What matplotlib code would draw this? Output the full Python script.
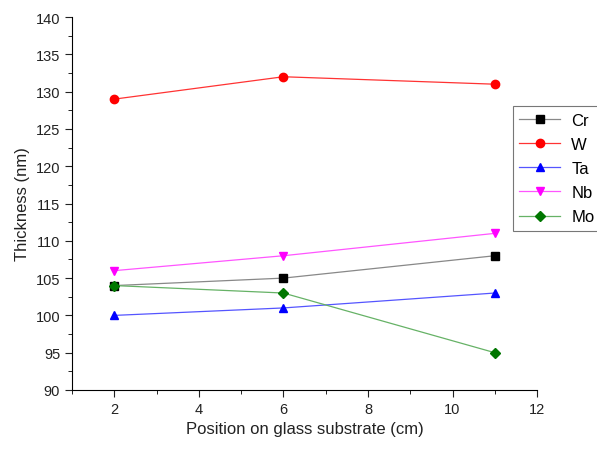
import matplotlib.pyplot as plt
from matplotlib.ticker import MultipleLocator

plt.rcParams['font.family'] = ['Liberation Sans', 'DejaVu Sans']

position = [2, 6, 11]
cr = [104, 105, 108]
w = [129, 132, 131]
ta = [100, 101, 103]
nb = [106, 108, 111]
mo = [104, 103, 95]

series = [
    ("Cr", cr, "#000000", "#888888", "s", 5.5),
    ("W", w, "#ff0000", "#ff3333", "o", 6),
    ("Ta", ta, "#0000ff", "#5555ff", "^", 6),
    ("Nb", nb, "#ff00ff", "#ff55ff", "v", 6),
    ("Mo", mo, "#007700", "#66b266", "D", 5),
]

fig = plt.figure(figsize=(5.97, 4.52), dpi=100)
ax = fig.add_axes([0.1206, 0.135, 0.779, 0.825])

for name, vals, mcol, lcol, mk, ms in series:
    ax.plot(position, vals, color=lcol, lw=0.9, marker=mk, markersize=ms,
            markerfacecolor=mcol, markeredgecolor=mcol, label=name)

ax.set_xlim(1, 12)
ax.set_ylim(90, 140)
ax.xaxis.set_major_locator(MultipleLocator(2))
ax.xaxis.set_minor_locator(MultipleLocator(1))
ax.yaxis.set_major_locator(MultipleLocator(5))
ax.yaxis.set_minor_locator(MultipleLocator(2.5))
ax.spines['top'].set_visible(False)
ax.spines['right'].set_visible(False)
ax.tick_params(which='major', direction='out', length=5, labelsize=10.5, colors='#222222')
ax.tick_params(which='minor', direction='out', length=3)
ax.set_xlabel("Position on glass substrate (cm)", fontsize=12, color='#222222')
ax.set_ylabel("Thickness (nm)", fontsize=12, color='#222222')

# legend sits at the right edge and runs slightly past it
leg = fig.legend(loc='upper left', bbox_to_anchor=(0.859, 0.763), borderaxespad=0,
                 fontsize=12, frameon=True, fancybox=False, edgecolor='#555555',
                 handlelength=2.45, borderpad=0.4, labelspacing=0.55, handletextpad=0.65)
leg.get_frame().set_linewidth(0.8)

fig.savefig("out.png", dpi=100)
